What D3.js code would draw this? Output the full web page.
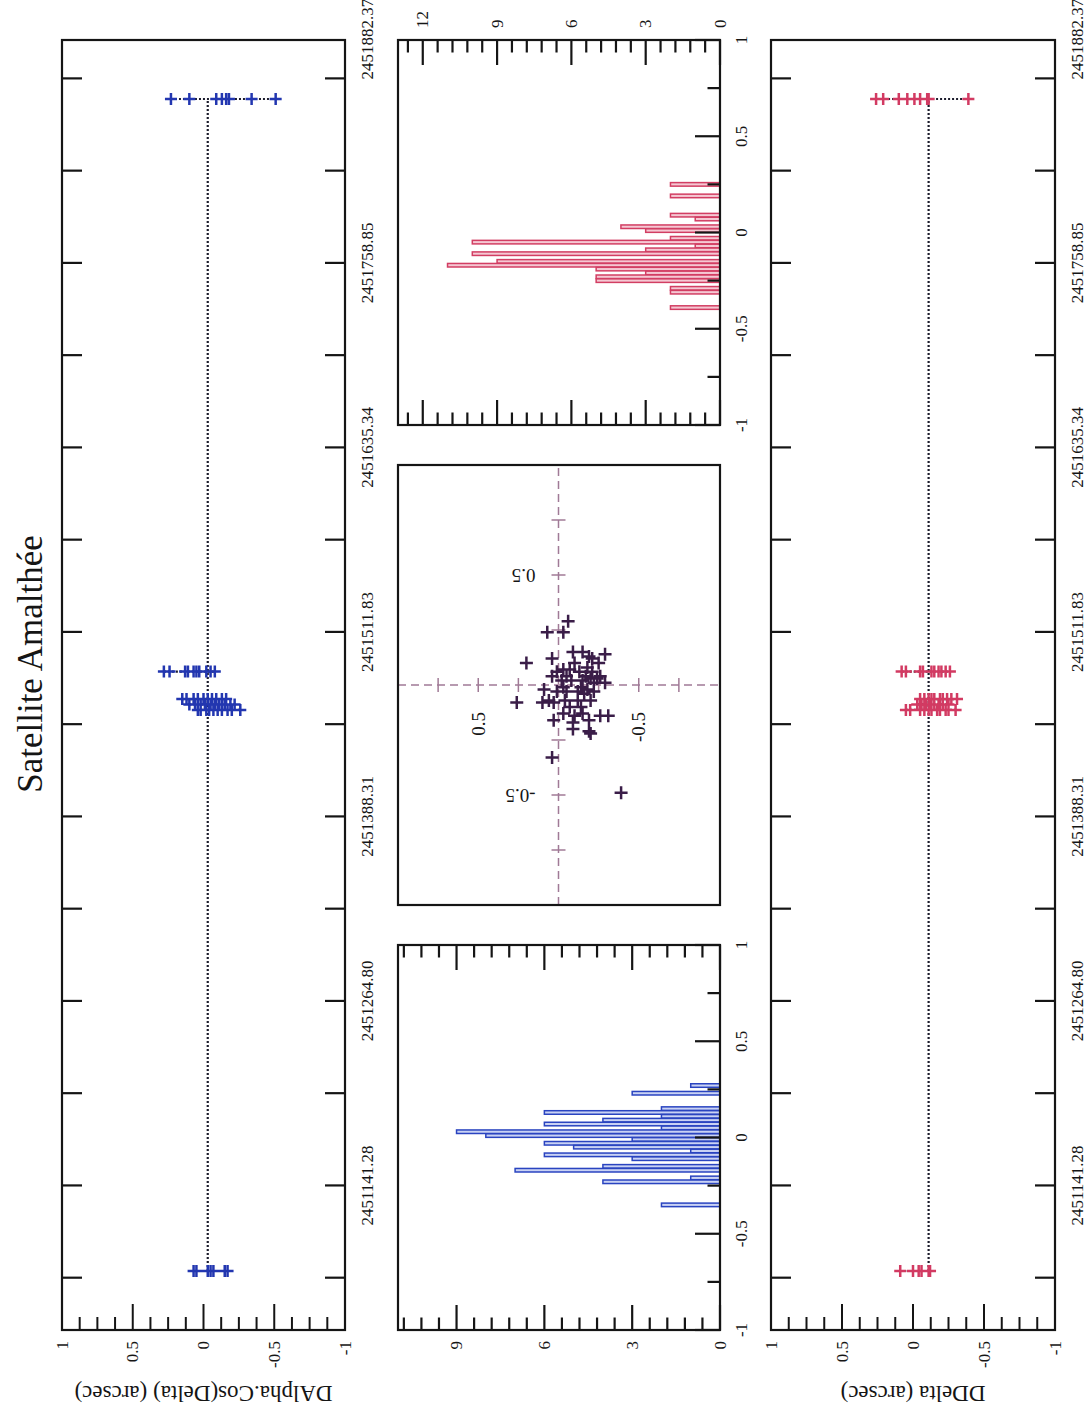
<!DOCTYPE html>
<html>
<head>
<meta charset="utf-8">
<script src="https://cdn.jsdelivr.net/npm/d3@7"></script>
<style>
  html, body { margin: 0; padding: 0; background: #fff; }
  svg { display: block; }
  text { font-family: "Liberation Serif", "Times New Roman", serif; fill: #151515; }
</style>
</head>
<body>
<svg id="chart" width="1088" height="1416"></svg>
<script>
// ---------------- data ----------------
const titleText = "Satellite Amalthée";
const alphaTitle = "DAlpha.Cos(Delta) (arcsec)";
const deltaTitle = "DDelta (arcsec)";

// Julian-date tick labels of the time axis
const timeTickLabels = ["2451141.28", "2451264.80", "2451388.31", "2451511.83", "2451635.34", "2451758.85", "2451882.37"];
const timeDomain = [2451044.5, 2451908.1];

// observation nights (JD) and residuals per night (arcsec)
const nightsJD = [2451084.0, 2451459.6, 2451463.3, 2451466.9, 2451485.3, 2451868.6];
const dAlphaByNight = [
  [0.07, 0.05, -0.03, -0.05, -0.07, -0.15, -0.17],
  [0.04, 0.02, -0.02, -0.04, -0.07, -0.10, -0.13, -0.17, -0.20, -0.26],
  [0.10, 0.06, 0.02, -0.01, -0.05, -0.08, -0.11, -0.15, -0.19, -0.22],
  [0.15, 0.12, 0.07, 0.04, 0.00, -0.03, -0.06, -0.09, -0.13, -0.16],
  [0.28, 0.24, 0.13, 0.11, 0.07, 0.05, 0.03, -0.02, -0.05, -0.08],
  [0.23, 0.10, -0.09, -0.13, -0.16, -0.18, -0.34, -0.51]
];
const dDeltaByNight = [
  [0.09, 0.00, -0.04, -0.06, -0.11, -0.12],
  [0.05, 0.02, -0.05, -0.08, -0.11, -0.13, -0.17, -0.19, -0.23, -0.25, -0.30],
  [-0.03, -0.06, -0.09, -0.12, -0.15, -0.18, -0.21, -0.25],
  [-0.05, -0.08, -0.11, -0.13, -0.15, -0.19, -0.21, -0.24, -0.27, -0.31],
  [0.08, 0.05, -0.05, -0.07, -0.13, -0.15, -0.18, -0.20, -0.23, -0.26],
  [0.26, 0.21, 0.10, 0.04, -0.01, -0.05, -0.10, -0.11, -0.39]
];
const meanAlpha = -0.03;
const meanDelta = -0.11;

// histograms: bin centres (arcsec, width 0.02) and counts
const histAlphaBins   = [0.27, 0.23, 0.15, 0.13, 0.11, 0.09, 0.07, 0.05, 0.03, 0.01, -0.01, -0.03, -0.05, -0.07, -0.09, -0.11, -0.15, -0.17, -0.21, -0.23, -0.35];
const histAlphaCounts = [1,    3,    2,    6,    2,    4,    6,    2,    9,    8,    3,     6,     5,     1,     6,     3,     4,     7,     1,     4,     2];
const histDeltaBins   = [0.25, 0.19, 0.09, 0.07, 0.03, 0.01, -0.03, -0.05, -0.07, -0.09, -0.11, -0.15, -0.17, -0.19, -0.21, -0.23, -0.25, -0.29, -0.31, -0.39];
const histDeltaCounts = [2,    2,    2,    1,    4,    3,    2,     10,    1,     3,     10,    9,     11,    5,     3,     5,     5,     2,     2,     2];
const binWidth = 0.02;

// DAlpha.cos(Delta) vs DDelta
const scatterAlpha = [0.29, 0.24, 0.24, 0.10, 0.12, 0.15, 0.15, 0.13, 0.14, 0.12, 0.10, 0.07, 0.07, 0.04, 0.06, 0.04, 0.03, 0.02, 0.03, 0.01,
                      0.04, 0.02, -0.02, -0.03, -0.03, -0.01, -0.02, 0.01, -0.04, -0.08, -0.08, -0.08, -0.07, -0.07, -0.10, -0.13, -0.14, -0.16, -0.16, -0.14,
                      -0.14, -0.17, -0.20, -0.21, -0.22, -0.33, -0.49, 0.02, -0.03, -0.07, -0.10, -0.13, 0.06, 0.04, 0.10, 0.06, -0.07, 0.08, -0.01, -0.03];
const scatterDelta = [-0.06, 0.07, -0.03, 0.20, 0.04, -0.09, -0.15, -0.19, -0.29, -0.21, -0.25, -0.03, -0.07, 0.04, -0.13, -0.17, -0.20, -0.15, -0.24, -0.29,
                      -0.05, -0.02, 0.09, 0.01, -0.05, -0.14, -0.18, -0.22, -0.16, 0.26, 0.10, 0.03, -0.04, -0.12, -0.14, -0.03, -0.10, 0.03, -0.19, -0.26,
                      -0.31, -0.09, -0.09, -0.19, -0.20, 0.04, -0.39, -0.08, -0.12, -0.20, -0.07, -0.15, -0.21, -0.26, -0.10, 0.01, 0.06, -0.18, -0.03, -0.22];

// ---------------- drawing ----------------
const ink = "#151515";
const blue = "#2236b0", red = "#d23a62", plum = "#3a1d48", axisPlum = "#a07a96";

const svg = d3.select("#chart");
svg.append("rect").attr("width", 1088).attr("height", 1416).attr("fill", "#fff");
// the sheet is laid out in landscape and turned a quarter turn
const g = svg.append("g").attr("transform", "translate(0,1416) rotate(-90)");

const panels = {
  top:   {x0: 86,  x1: 1376, y0: 62,  y1: 345},
  histA: {x0: 86,  x1: 471,  y0: 398, y1: 720},
  scat:  {x0: 511, x1: 951,  y0: 398, y1: 720},
  histD: {x0: 991, x1: 1376, y0: 398, y1: 720},
  bot:   {x0: 86,  x1: 1376, y0: 771, y1: 1055}
};

function segs(parent, data, f, stroke, width) {
  parent.append("g").selectAll("line").data(data).join("line")
    .each(function (d) {
      const [x1, y1, x2, y2] = f(d);
      d3.select(this).attr("x1", x1).attr("y1", y1).attr("x2", x2).attr("y2", y2);
    })
    .attr("stroke", stroke).attr("stroke-width", width);
}

function frame(p) {
  g.append("rect").attr("x", p.x0).attr("y", p.y0)
    .attr("width", p.x1 - p.x0).attr("height", p.y1 - p.y0)
    .attr("fill", "none").attr("stroke", ink).attr("stroke-width", 2.2);
}

function fmt(v) { return String(+v.toFixed(2)); }

function plus(parent, pts, s, color, width) {
  parent.append("path")
    .attr("d", pts.map(([x, y]) => `M${x - s},${y}H${x + s}M${x},${y - s}V${y + s}`).join(""))
    .attr("fill", "none").attr("stroke", color).attr("stroke-width", width);
}

// residuals against time
function seriesPanel(p, byNight, mean, color, title, labelY) {
  const x = d3.scaleLinear().domain(timeDomain).range([p.x0, p.x1]);
  const y = d3.scaleLinear().domain([-1, 1]).range([p.y1, p.y0]);
  const layer = g.append("g");

  const majors = timeTickLabels.map(Number);
  const half = (majors[1] - majors[0]) / 2;
  const tt = d3.range(-1, 2 * (majors.length - 1) + 1).map(k => majors[0] + k * half);
  segs(layer, tt, t => [x(t), p.y0, x(t), p.y0 + 20], ink, 2.2);
  segs(layer, tt, t => [x(t), p.y1, x(t), p.y1 - 20], ink, 2.2);

  const vt = d3.range(-8, 9);
  segs(layer, vt, k => [p.x0, y(k / 8), p.x0 + (k % 4 === 0 ? 26 : 13), y(k / 8)], ink, 2);

  layer.append("g").selectAll("text").data([1, 0.5, 0, -0.5, -1]).join("text")
    .attr("x", p.x0 - 11).attr("y", d => y(d))
    .attr("text-anchor", "end").attr("dominant-baseline", "central")
    .attr("font-size", 17).text(d => fmt(d));

  layer.append("g").selectAll("text").data(timeTickLabels).join("text")
    .attr("x", (d, i) => i === timeTickLabels.length - 1 ? x(+d) - 1 : x(+d))
    .attr("y", labelY)
    .attr("text-anchor", (d, i) => i === timeTickLabels.length - 1 ? "start" : "middle")
    .attr("font-size", 17).text(d => d);

  layer.append("text")
    .attr("transform", `translate(30,${(p.y0 + p.y1) / 2}) rotate(-90)`)
    .attr("text-anchor", "middle").attr("font-size", 23).text(title);

  // mean level across the whole campaign, and the spread of each night
  const dotted = {stroke: "#1c1c2c", width: 2.2, dash: "2,2"};
  layer.append("line")
    .attr("x1", x(nightsJD[0])).attr("x2", x(nightsJD[nightsJD.length - 1]))
    .attr("y1", y(mean)).attr("y2", y(mean))
    .attr("stroke", dotted.stroke).attr("stroke-width", dotted.width).attr("stroke-dasharray", dotted.dash);
  layer.append("g").selectAll("line").data(byNight).join("line")
    .attr("x1", (d, i) => x(nightsJD[i])).attr("x2", (d, i) => x(nightsJD[i]))
    .attr("y1", d => y(d3.max(d))).attr("y2", d => y(d3.min(d)))
    .attr("stroke", dotted.stroke).attr("stroke-width", dotted.width).attr("stroke-dasharray", dotted.dash);

  const pts = [];
  byNight.forEach((vals, i) => vals.forEach(v => pts.push([x(nightsJD[i]), y(v)])));
  plus(layer, pts, 6, color, 2.5);
}

// histogram of residuals
function histPanel(p, bins, counts, maxCount, stroke, fill, labelsRight) {
  const x = d3.scaleLinear().domain([-1, 1]).range([p.x0, p.x1]);
  const y = d3.scaleLinear().domain([0, maxCount]).range([p.y1, p.y0]);
  const layer = g.append("g");

  layer.append("g").selectAll("rect").data(bins.map((b, i) => ({b, c: counts[i]}))).join("rect")
    .attr("x", d => x(d.b - binWidth * 0.46))
    .attr("width", d => x(d.b + binWidth * 0.46) - x(d.b - binWidth * 0.46))
    .attr("y", d => y(d.c)).attr("height", d => y(0) - y(d.c))
    .attr("fill", fill).attr("stroke", stroke).attr("stroke-width", 1.5);

  const ct = d3.range(0, Math.floor(maxCount / 0.6 + 1e-6) + 1);
  segs(layer, ct, k => [p.x0, y(k * 0.6), p.x0 + (k % 5 === 0 ? 25 : 12.5), y(k * 0.6)], ink, 2.2);
  segs(layer, ct, k => [p.x1, y(k * 0.6), p.x1 - (k % 5 === 0 ? 25 : 12.5), y(k * 0.6)], ink, 2.2);

  const bt = d3.range(-4, 5);
  segs(layer, bt, k => [x(k / 4), p.y1, x(k / 4), p.y1 - (k % 2 === 0 ? 25 : 12.5)], ink, 2.2);

  layer.append("g").selectAll("text").data(d3.range(0, maxCount + 0.01, 3)).join("text")
    .attr("x", labelsRight ? p.x1 + 12 : p.x0 - 11).attr("y", d => y(d))
    .attr("text-anchor", labelsRight ? "start" : "end").attr("dominant-baseline", "central")
    .attr("font-size", 17).text(d => d);

  layer.append("g").selectAll("text").data([-1, -0.5, 0, 0.5, 1]).join("text")
    .attr("x", d => x(d)).attr("y", p.y1 + 27)
    .attr("text-anchor", "middle").attr("font-size", 17).text(d => fmt(d));
}

// DAlpha against DDelta
function scatterPanel(p) {
  const x = d3.scaleLinear().domain([-1, 1]).range([p.x0, p.x1]);
  const y = d3.scaleLinear().domain([-1, 1]).range([p.y1 - 1, p.y0]);
  const layer = g.append("g");

  layer.append("line").attr("x1", p.x0).attr("x2", p.x1).attr("y1", y(0)).attr("y2", y(0))
    .attr("stroke", axisPlum).attr("stroke-width", 1.5).attr("stroke-dasharray", "8,5");
  layer.append("line").attr("x1", x(0)).attr("x2", x(0)).attr("y1", p.y0).attr("y2", p.y1)
    .attr("stroke", axisPlum).attr("stroke-width", 1.5).attr("stroke-dasharray", "8,5");

  const st = [-0.75, -0.5, -0.25, 0.25, 0.5, 0.75];
  segs(layer, st, v => [x(v), y(0) - 7, x(v), y(0) + 7], axisPlum, 1.5);
  segs(layer, st, v => [x(0) - 7, y(v), x(0) + 7, y(v)], axisPlum, 1.5);

  layer.append("g").selectAll("text").data([0.5, -0.5]).join("text")
    .attr("transform", v => `translate(${x(v)},${y(0) - 23}) rotate(-90)`)
    .attr("text-anchor", "start").attr("dominant-baseline", "central")
    .attr("font-size", 19).text(v => fmt(v));
  layer.append("g").selectAll("text").data([0.5, -0.5]).join("text")
    .attr("x", x(0) - 27).attr("y", v => y(v))
    .attr("text-anchor", "end").attr("dominant-baseline", "central")
    .attr("font-size", 19).text(v => fmt(v));

  plus(layer, scatterAlpha.map((a, i) => [x(a), y(scatterDelta[i])]), 6.5, plum, 2.5);
}

g.append("text").attr("x", 752).attr("y", 42).attr("text-anchor", "middle")
  .attr("font-size", 35).text(titleText);

seriesPanel(panels.top, dAlphaByNight, meanAlpha, blue, alphaTitle, 373);
seriesPanel(panels.bot, dDeltaByNight, meanDelta, red, deltaTitle, 1083);
histPanel(panels.histA, histAlphaBins, histAlphaCounts, 11, "#2a44c0", "#c9d2f4", false);
histPanel(panels.histD, histDeltaBins, histDeltaCounts, 13, "#d23e63", "#f5c8d3", true);
scatterPanel(panels.scat);

Object.values(panels).forEach(frame);
</script>
</body>
</html>
